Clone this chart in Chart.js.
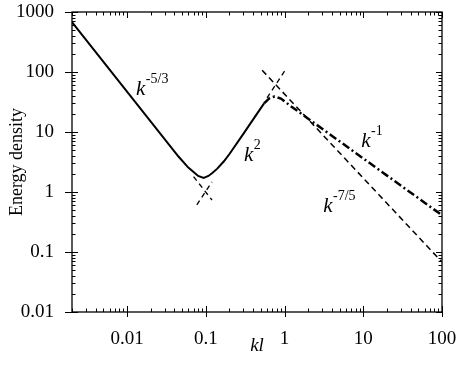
<!DOCTYPE html>
<html>
<head>
<meta charset="utf-8">
<script src="https://cdn.jsdelivr.net/npm/chart.js@4.4.0/dist/chart.umd.min.js"></script>
<style>
  html, body { margin: 0; padding: 0; background: #fff; }
</style>
</head>
<body>
<canvas id="spectrumChart" width="457" height="365"></canvas>
<script>
// tick labels
const xTicks = [0.01, 0.1, 1, 10, 100];
const xTickLabels = ['0.01', '0.1', '1', '10', '100'];
const yTicks = [0.01, 0.1, 1, 10, 100, 1000];
const yTickLabels = ['0.01', '0.1', '1', '10', '100', '1000'];

// solid spectrum (k^-5/3 fall, dip near kl=0.1, k^2 rise)
const solidK = [0.002, 0.045, 0.06, 0.07, 0.08, 0.094, 0.108, 0.12, 0.14, 0.17, 0.2, 0.3, 0.55];
const solidE = [675, 3.9, 2.55, 2.15, 1.85, 1.72, 1.85, 2.05, 2.45, 3.25, 4.3, 9.3, 30];

// dash-dot branch ending as k^-1
const dashDotK = [0.55, 0.65, 0.75, 0.9, 1.2, 100];
const dashDotE = [30, 37, 39, 36, 27, 0.41];

// dashed k^-7/5 line
const dashedK = [0.52, 100];
const dashedE = [107, 0.068];

// short dashed asymptotes forming the two crosses
const lowSlopeK = [0.07, 0.12];      // k^-5/3 extension
const lowSlopeE = [1.8, 0.735];
const lowRiseK = [0.077, 0.12];      // k^2 extension
const lowRiseE = [0.61, 1.48];
const topRiseK = [0.6, 1.0];         // k^2 extension near the peak
const topRiseE = [37, 103];

// power-law labels
const powerText = ['-5/3', '2', '-1', '-7/5'];
const powerK = [0.013, 0.305, 9.4, 3.1];
const powerE = [41, 3.3, 5.6, 0.46];

const serif = '"Liberation Serif", "DejaVu Serif", serif';

function pts(ks, es) {
    return ks.map((k, i) => ({ x: k, y: es[i] }));
}

function line(data, width, dash) {
    return {
        data: data,
        showLine: true,
        borderColor: '#000',
        borderWidth: width,
        borderDash: dash,
        pointRadius: 0,
        fill: false,
        tension: 0
    };
}

function minorValues(min, max) {
    const out = [];
    for (let p = Math.floor(Math.log10(min)); p <= Math.ceil(Math.log10(max)); p++) {
        for (let m = 1; m <= 9; m++) {
            const v = m * Math.pow(10, p);
            if (v >= min * 0.999 && v <= max * 1.001) out.push({ v: v, major: m === 1 });
        }
    }
    return out;
}

const frameAndLabels = {
    id: 'frameAndLabels',
    afterDraw(chart) {
        const ctx = chart.ctx;
        const a = chart.chartArea;
        const xs = chart.scales.x;
        const ys = chart.scales.y;
        ctx.save();
        ctx.strokeStyle = '#000';
        ctx.lineWidth = 1.3;
        ctx.strokeRect(a.left, a.top, a.right - a.left, a.bottom - a.top);

        ctx.lineWidth = 1;
        ctx.beginPath();
        minorValues(xs.min, xs.max).forEach(t => {
            const px = Math.round(xs.getPixelForValue(t.v)) + 0.5;
            const len = t.major ? 6 : 3.5;
            ctx.moveTo(px, a.bottom); ctx.lineTo(px, a.bottom - len);
            ctx.moveTo(px, a.top); ctx.lineTo(px, a.top + len);
            if (t.major) { ctx.moveTo(px, a.bottom); ctx.lineTo(px, a.bottom + 5); }
        });
        minorValues(ys.min, ys.max).forEach(t => {
            const py = Math.round(ys.getPixelForValue(t.v)) + 0.5;
            const len = t.major ? 6 : 3.5;
            ctx.moveTo(a.left, py); ctx.lineTo(a.left + len, py);
            ctx.moveTo(a.right, py); ctx.lineTo(a.right - len, py);
            if (t.major) { ctx.moveTo(a.left, py); ctx.lineTo(a.left - 7, py); }
        });
        ctx.stroke();

        // k^n labels
        ctx.fillStyle = '#000';
        ctx.textBaseline = 'alphabetic';
        ctx.textAlign = 'left';
        powerText.forEach((txt, i) => {
            const px = xs.getPixelForValue(powerK[i]);
            const py = ys.getPixelForValue(powerE[i]);
            ctx.font = 'italic 21px ' + serif;
            ctx.fillText('k', px, py);
            const w = ctx.measureText('k').width;
            ctx.font = '14px ' + serif;
            ctx.fillText(txt, px + w + 0.5, py - 12);
        });
        ctx.restore();
    }
};

const ctx = document.getElementById('spectrumChart').getContext('2d');
const spectrumChart = new Chart(ctx, {
    type: 'scatter',
    data: {
        datasets: [
            line(pts(solidK, solidE), 2, []),
            line(pts(dashDotK, dashDotE), 2.5, [8, 3, 2, 3]),
            line(pts(dashedK, dashedE), 1.5, [6, 4]),
            line(pts(lowSlopeK, lowSlopeE), 1.3, [5, 4]),
            line(pts(lowRiseK, lowRiseE), 1.3, [5, 4]),
            line(pts(topRiseK, topRiseE), 1.3, [5, 4])
        ]
    },
    options: {
        responsive: false,
        animation: false,
        layout: { padding: { top: 12, right: 15, left: 0, bottom: 0 } },
        plugins: {
            legend: { display: false },
            tooltip: { enabled: false }
        },
        scales: {
            x: {
                type: 'logarithmic',
                position: 'bottom',
                min: 0.002,
                max: 100,
                afterBuildTicks: s => { s.ticks = xTicks.map(v => ({ value: v })); },
                afterFit: s => { s.height = 53; s.paddingLeft = 0; s.paddingRight = 0; },
                ticks: {
                    color: '#000',
                    font: { family: serif, size: 19 },
                    padding: 8,
                    maxRotation: 0,
                    autoSkip: false,
                    callback: (v, i) => xTickLabels[i]
                },
                grid: { display: false },
                border: { display: false },
                title: {
                    display: true,
                    text: 'kl',
                    color: '#000',
                    font: { family: serif, size: 19, style: 'italic' },
                    padding: { top: 0, bottom: 8 }
                }
            },
            y: {
                type: 'logarithmic',
                min: 0.01,
                max: 1000,
                afterBuildTicks: s => { s.ticks = yTicks.map(v => ({ value: v })); },
                afterFit: s => { s.width = 72; s.paddingTop = 0; s.paddingBottom = 0; },
                ticks: {
                    color: '#000',
                    font: { family: serif, size: 19 },
                    padding: 10,
                    autoSkip: false,
                    callback: (v, i) => yTickLabels[i]
                },
                grid: { display: false },
                border: { display: false },
                title: {
                    display: true,
                    text: 'Energy density',
                    color: '#000',
                    font: { family: serif, size: 18 },
                    padding: { top: 6, bottom: 0 }
                }
            }
        }
    },
    plugins: [frameAndLabels]
});
</script>
</body>
</html>
